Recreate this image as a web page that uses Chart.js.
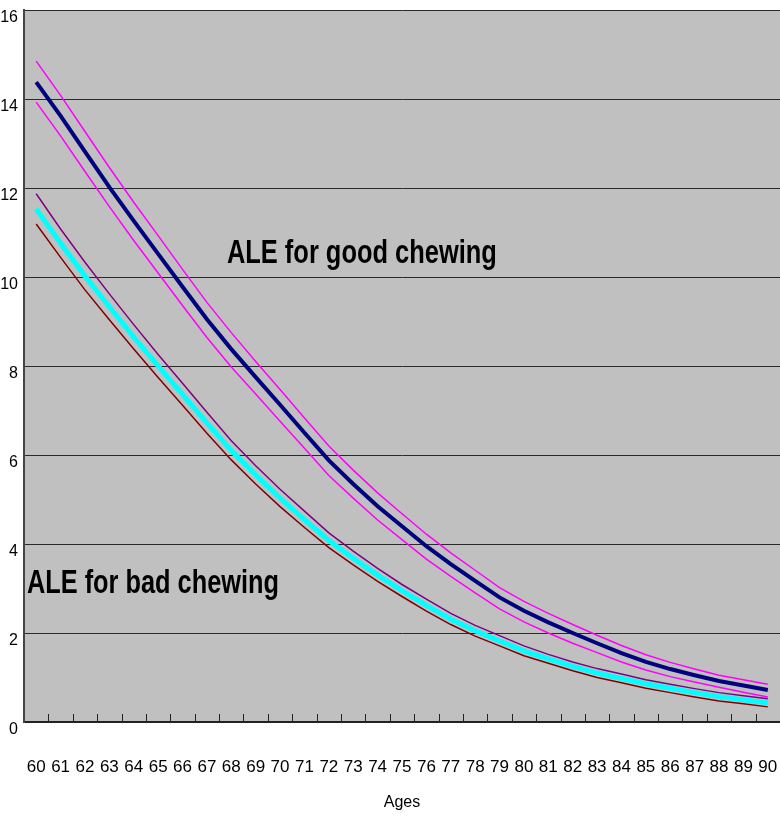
<!DOCTYPE html>
<html>
<head>
<meta charset="utf-8">
<title>ALE</title>
<script src="https://cdn.jsdelivr.net/npm/chart.js@4.4.0/dist/chart.umd.min.js"></script>
<style>
  html, body { margin: 0; padding: 0; background: #fff; }
  #caixa { width: 780px; height: 820px; position: relative; }
</style>
</head>
<body>
<div id="caixa"><canvas id="graficoALE"></canvas></div>
<script>
// idades (eixo x)
const idades = ['60','61','62','63','64','65','66','67','68','69','70','71','72','73','74','75',
                '76','77','78','79','80','81','82','83','84','85','86','87','88','89','90']

// ALE mastigacao boa + limites
const boa = [14.38, 13.62, 12.82, 12.02, 11.26, 10.52, 9.78, 9.05, 8.38, 7.75, 7.13, 6.50, 5.88, 5.35, 4.85, 4.40,
             3.95, 3.55, 3.17, 2.80, 2.50, 2.24, 2.00, 1.77, 1.55, 1.35, 1.19, 1.05, 0.92, 0.82, 0.72]
const boaSup = [14.85, 14.08, 13.27, 12.46, 11.68, 10.93, 10.17, 9.43, 8.75, 8.10, 7.47, 6.83, 6.20, 5.66, 5.15, 4.68,
                4.22, 3.80, 3.41, 3.02, 2.71, 2.44, 2.19, 1.95, 1.72, 1.51, 1.34, 1.19, 1.05, 0.95, 0.85]
const boaInf = [13.93, 13.17, 12.37, 11.58, 10.82, 10.09, 9.36, 8.64, 7.98, 7.37, 6.76, 6.15, 5.54, 5.03, 4.54, 4.10,
                3.66, 3.27, 2.90, 2.54, 2.25, 2.00, 1.77, 1.56, 1.35, 1.17, 1.02, 0.90, 0.78, 0.67, 0.56]

// ALE mastigacao ruim + limites
const ruim = [11.53, 10.76, 10.02, 9.33, 8.65, 8.00, 7.36, 6.72, 6.10, 5.55, 5.03, 4.55, 4.08, 3.68, 3.30, 2.95,
              2.62, 2.31, 2.05, 1.82, 1.60, 1.42, 1.25, 1.10, 0.98, 0.86, 0.76, 0.66, 0.57, 0.50, 0.43]
const ruimSup = [11.87, 11.08, 10.33, 9.62, 8.93, 8.26, 7.61, 6.96, 6.32, 5.76, 5.23, 4.74, 4.25, 3.84, 3.45, 3.09,
                 2.76, 2.44, 2.17, 1.94, 1.71, 1.52, 1.35, 1.20, 1.08, 0.95, 0.85, 0.75, 0.66, 0.59, 0.52]
const ruimInf = [11.19, 10.44, 9.71, 9.04, 8.38, 7.74, 7.12, 6.49, 5.89, 5.35, 4.84, 4.37, 3.92, 3.53, 3.16, 2.82,
                 2.49, 2.19, 1.93, 1.71, 1.49, 1.32, 1.15, 1.00, 0.88, 0.76, 0.66, 0.56, 0.47, 0.41, 0.34]

const yTicks = [0, 2, 4, 6, 8, 10, 12, 14, 16]

const fonteNarrow = "'Liberation Sans Narrow', 'Arial Narrow', 'Liberation Sans', Arial, sans-serif"

// textos dentro do grafico (posicao em indice de idade / valor)
const textos = [
  { txt: 'ALE for good chewing', i: -0.5 + 8.32, v: 10.52, largura: 270 },
  { txt: 'ALE for bad chewing', i: -0.5 + 0.12, v: 3.12, largura: 252 }
]

const fundo = {
  id: 'fundo',
  beforeDraw(chart) {
    const a = chart.chartArea, ctx = chart.ctx
    ctx.save()
    ctx.fillStyle = '#c0c0c0'
    ctx.fillRect(a.left, a.top, a.right - a.left, a.bottom - a.top)
    ctx.restore()
  }
}

const extras = {
  id: 'extras',
  afterDatasetsDraw(chart) {
    const ctx = chart.ctx, x = chart.scales.x, y = chart.scales.y, a = chart.chartArea
    ctx.save()
    // marcas do eixo x para dentro
    ctx.strokeStyle = '#222'
    ctx.lineWidth = 1
    for (let i = 1; i < idades.length; i++) {
      const px = Math.round((x.getPixelForValue(i - 1) + x.getPixelForValue(i)) / 2) + 0.5
      ctx.beginPath()
      ctx.moveTo(px, a.bottom)
      ctx.lineTo(px, a.bottom - 8)
      ctx.stroke()
    }
    // textos
    ctx.fillStyle = '#000'
    ctx.font = "bold 34px " + fonteNarrow
    ctx.textBaseline = 'middle'
    const passo = x.getPixelForValue(1) - x.getPixelForValue(0)
    textos.forEach(t => {
      const px = x.getPixelForValue(0) + t.i * passo
      const py = y.getPixelForValue(t.v)
      const w = ctx.measureText(t.txt).width
      ctx.save()
      ctx.translate(px, py)
      ctx.scale(t.largura / w, 1)
      ctx.fillText(t.txt, 0, 0)
      ctx.restore()
    })
    ctx.restore()
  }
}

function linha(dados, cor, larg) {
  return {
    data: dados,
    borderColor: cor,
    backgroundColor: cor,
    borderWidth: larg,
    pointRadius: 0,
    tension: 0,
    fill: false
  }
}

window.addEventListener('load', setup)
function setup() {
  const ctx = document.getElementById('graficoALE').getContext('2d')
  const graph = new Chart(ctx, {
    type: 'line',
    data: {
      labels: idades,
      datasets: [
        linha(ruimInf, '#800000', 1.5),
        linha(ruimSup, '#800080', 1.5),
        linha(ruim, '#00ffff', 5),
        linha(boaSup, '#ff00ff', 1.5),
        linha(boaInf, '#ff00ff', 1.5),
        linha(boa, '#000080', 4)
      ]
    },
    options: {
      responsive: true,
      maintainAspectRatio: false,
      animation: false,
      layout: { padding: { top: 10, left: 0, right: 0, bottom: 0 } },
      plugins: {
        legend: { display: false },
        tooltip: { enabled: false }
      },
      scales: {
        x: {
          offset: true,
          grid: { display: false, drawTicks: false },
          border: { display: true, color: '#222', width: 2 },
          ticks: {
            color: '#000',
            padding: 35,
            maxRotation: 0,
            autoSkip: false,
            font: { family: fonteNarrow, size: 17 }
          },
          title: {
            display: true,
            text: 'Ages',
            color: '#000',
            padding: { top: 0, bottom: 8 },
            font: { family: fonteNarrow, size: 16 }
          },
          afterFit(scale) {
            scale.height = 98
            scale.paddingLeft = 0
            scale.paddingRight = 0
          }
        },
        y: {
          min: 0,
          max: 16,
          afterBuildTicks(scale) { scale.ticks = yTicks.map(v => ({ value: v })) },
          grid: { color: '#2a2a2a', lineWidth: 1, drawTicks: false },
          border: { display: true, color: '#444', width: 2 },
          ticks: {
            color: '#000',
            padding: 6,
            labelOffset: 8,
            font: { family: fonteNarrow, size: 16 }
          },
          afterFit(scale) {
            scale.width = 24
            scale.paddingTop = 0
            scale.paddingBottom = 0
          }
        }
      }
    },
    plugins: [fundo, extras]
  })
}
</script>
</body>
</html>
